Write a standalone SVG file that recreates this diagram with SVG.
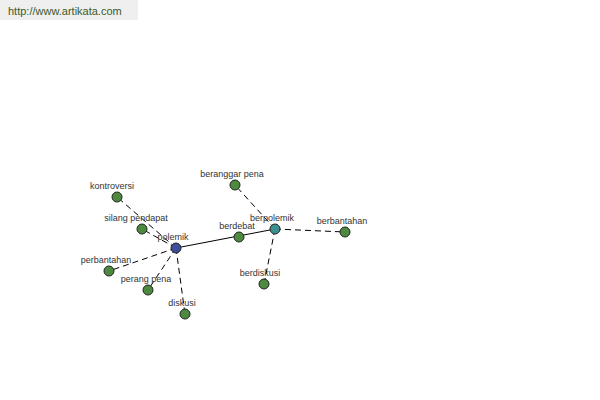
<svg xmlns="http://www.w3.org/2000/svg" width="600" height="400" viewBox="0 0 600 400">
<style>
.lbl{font-family:"Liberation Sans",Arial,sans-serif;font-size:9px;fill:#333;text-anchor:middle}
.n{stroke:#222;stroke-width:1}
.g{fill:#4d8a3f}
.d{stroke:#000;stroke-width:1;fill:none;stroke-dasharray:6,4}
.s{stroke:#000;stroke-width:1;fill:none}
</style>
<rect width="600" height="400" fill="#fff"/>
<g id="header">
<rect x="0" y="0" width="138" height="20" fill="#efefef"/>
<text x="8" y="15" font-family="'Liberation Sans',Arial,sans-serif" font-size="11" fill="#3a5a2a">http://www.artikata.com</text>
</g>
<g id="connectors">
<line class="s" x1="176" y1="248" x2="275" y2="229"/>
<line class="d" x1="176" y1="248" x2="117" y2="197"/>
<line class="d" x1="176" y1="248" x2="142" y2="229"/>
<line class="d" x1="176" y1="248" x2="109" y2="271"/>
<line class="d" x1="176" y1="248" x2="148" y2="290"/>
<line class="d" x1="176" y1="248" x2="185" y2="314"/>
<line class="d" x1="275" y1="229" x2="235" y2="185"/>
<line class="d" x1="275" y1="229" x2="345" y2="232"/>
<line class="d" x1="275" y1="229" x2="264" y2="284"/>
</g>
<g id="kontroversi"><circle class="n g" cx="117" cy="197" r="5"/><text class="lbl" x="112" y="189">kontroversi</text></g>
<g id="silang-pendapat"><circle class="n g" cx="142" cy="229" r="5"/><text class="lbl" x="136" y="221">silang pendapat</text></g>
<g id="perbantahan"><circle class="n g" cx="109" cy="271" r="5"/><text class="lbl" x="106" y="263">perbantahan</text></g>
<g id="perang-pena"><circle class="n g" cx="148" cy="290" r="5"/><text class="lbl" x="146" y="282">perang pena</text></g>
<g id="diskusi"><circle class="n g" cx="185" cy="314" r="5"/><text class="lbl" x="182" y="306">diskusi</text></g>
<g id="berdebat"><circle class="n g" cx="239" cy="237" r="5"/><text class="lbl" x="237" y="229">berdebat</text></g>
<g id="beranggar-pena"><circle class="n g" cx="235" cy="185" r="5"/><text class="lbl" x="232" y="177">beranggar pena</text></g>
<g id="berbantahan"><circle class="n g" cx="345" cy="232" r="5"/><text class="lbl" x="342" y="224">berbantahan</text></g>
<g id="berdiskusi"><circle class="n g" cx="264" cy="284" r="5"/><text class="lbl" x="260" y="276">berdiskusi</text></g>
<g id="polemik"><circle class="n" cx="176" cy="248" r="5" fill="#3d4f9c"/><text class="lbl" x="173" y="240">polemik</text></g>
<g id="berpolemik"><circle class="n" cx="275" cy="229" r="5" fill="#3a9290"/><text class="lbl" x="272" y="221">berpolemik</text></g>
</svg>
